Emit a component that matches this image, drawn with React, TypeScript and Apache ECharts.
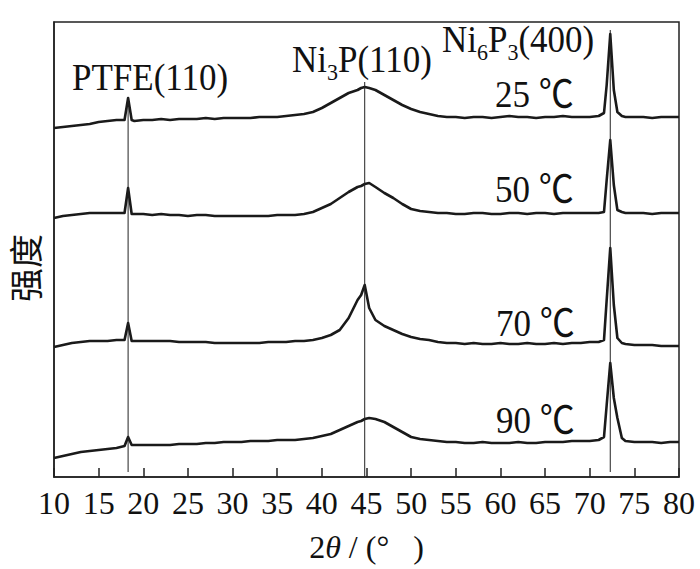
import { useEffect, useRef } from "react";
import * as echarts from "echarts";

// 2θ sampling positions (degrees)
const twoTheta = [
  10, 11, 12, 13, 14, 15, 16, 17,
  17.9, 18.3, 18.7,
  19, 20, 21, 22, 23, 24, 25, 26, 27, 28, 29, 30, 31, 32, 33, 34, 35, 36, 37, 38, 39, 40, 41, 42, 43, 44,
  44.4, 44.8, 45.3,
  46, 47, 48, 49, 50, 51, 52, 53, 54, 55, 56, 57, 58, 59, 60, 61, 62, 63, 64, 65, 66, 67, 68, 69, 70, 71,
  71.6, 71.9, 72.3, 72.7, 73.1, 73.6,
  74, 75, 76, 77, 78, 79, 80,
];

// Intensities (a.u., stacked offsets)
const i25 = [
  349, 350, 351, 352, 353, 355, 356, 357,
  357, 379, 357,
  356, 357, 357, 358, 357, 358, 358, 358, 359, 358, 359, 359, 359, 359, 360, 360, 360, 361, 362, 363, 365, 369, 374, 379, 384, 387,
  389, 390, 389,
  387, 382, 377, 372, 368, 365, 363, 361, 360, 360, 359, 360, 360, 359, 360, 361, 360, 360, 359, 360, 360, 361, 360, 360, 360, 361,
  364, 392, 443, 387, 365, 361,
  360, 360, 360, 359, 360, 360, 360,
];
const i50 = [
  259, 261, 262, 263, 264, 264, 264, 264,
  264, 289, 263,
  263, 263, 262, 263, 262, 262, 261, 262, 262, 261, 261, 261, 261, 261, 261, 261, 262, 262, 262, 263, 265, 269, 273, 279, 285, 290,
  291, 293, 294,
  290, 284, 279, 273, 268, 266, 265, 264, 264, 263, 263, 264, 264, 263, 263, 264, 264, 263, 264, 264, 263, 264, 264, 264, 264, 264,
  265, 297, 337, 292, 267, 265,
  264, 264, 264, 263, 264, 264, 264,
];
const i70 = [
  130, 132, 134, 135, 136, 136, 136, 137,
  137, 154, 136,
  136, 136, 136, 136, 136, 135, 135, 135, 135, 134, 134, 134, 134, 134, 134, 135, 135, 135, 136, 136, 137, 139, 142, 147, 159, 177,
  182, 192, 169,
  157, 151, 147, 143, 140, 138, 137, 135, 134, 134, 133, 134, 133, 133, 134, 133, 133, 134, 133, 133, 134, 133, 134, 134, 135, 135,
  137, 177, 229, 172, 139, 134,
  133, 132, 132, 132, 131, 131, 131,
];
const i90 = [
  19, 21, 23, 25, 26, 27, 28, 29,
  31, 40, 32,
  32, 32, 32, 32, 32, 33, 33, 33, 34, 34, 35, 35, 35, 36, 36, 36, 37, 37, 37, 38, 39, 41, 43, 47, 51, 55,
  56, 58, 59,
  58, 55, 50, 45, 40, 38, 37, 36, 35, 35, 34, 34, 35, 34, 34, 34, 35, 34, 34, 35, 35, 35, 36, 36, 36, 37,
  40, 72, 114, 79, 59, 39,
  36, 35, 35, 35, 34, 35, 35,
];

// Reference peak lines: position, lower and upper end (a.u.)
const peakPos = [18.3, 44.8, 72.3];
const peakLow = [5, 0, 5];
const peakHigh = [379, 395, 447];

const curves = [
  { name: "25 ℃", data: i25 },
  { name: "50 ℃", data: i50 },
  { name: "70 ℃", data: i70 },
  { name: "90 ℃", data: i90 },
];

const serif = "'Liberation Serif', 'Times New Roman', 'Noto Sans CJK SC', serif";
const ink = "#111";

export default function App() {
  const ref = useRef<HTMLDivElement>(null);

  useEffect(() => {
    if (!ref.current) return;
    const chart = echarts.init(ref.current, null, { renderer: "svg" });

    const curveSeries = curves.map((c) => ({
      name: c.name,
      type: "line",
      data: twoTheta.map((x, k) => [x, c.data[k]]),
      symbol: "none",
      silent: true,
      lineStyle: { color: "#1a1a1a", width: 2.6, join: "round" },
      z: 3,
    }));

    const lineSeries = peakPos.map((p, k) => ({
      type: "line",
      data: [
        [p, peakLow[k]],
        [p, peakHigh[k]],
      ],
      symbol: "none",
      silent: true,
      lineStyle: { color: "#222", width: 1 },
      z: 4,
    }));

    const richBase = { fontFamily: serif, fontSize: 35, lineHeight: 44, color: ink };
    const richSub = { fontFamily: serif, fontSize: 22, lineHeight: 26, verticalAlign: "bottom", color: ink };

    const plainText = (text: string, x: number, y: number) => ({
      type: "text",
      x,
      y,
      scaleY: 1.08,
      silent: true,
      style: {
        text,
        fontFamily: serif,
        fontSize: 35,
        fill: ink,
        verticalAlign: "middle",
        align: "left",
      },
    });

    const richText = (text: string, x: number, y: number) => ({
      type: "text",
      x,
      y,
      scaleY: 1.08,
      silent: true,
      style: {
        text,
        fill: ink,
        verticalAlign: "middle",
        align: "left",
        rich: { n: richBase, s: richSub },
      },
    });

    chart.setOption({
      animation: false,
      backgroundColor: "#fff",
      grid: {
        left: 54,
        right: 21,
        top: 22,
        bottom: 92,
        show: true,
        borderColor: "#222",
        borderWidth: 1.5,
        backgroundColor: "transparent",
      },
      xAxis: {
        type: "value",
        min: 10,
        max: 80,
        interval: 5,
        axisLine: { show: true, onZero: false, lineStyle: { color: "#222", width: 1.5 } },
        axisTick: { show: true, inside: true, length: 9, lineStyle: { color: "#222", width: 1.5 } },
        axisLabel: { fontFamily: serif, fontSize: 32, color: ink, margin: 10 },
        splitLine: { show: false },
        name: "2{i|θ} / (°   )",
        nameLocation: "middle",
        nameGap: 54,
        nameTextStyle: {
          fontFamily: serif,
          fontSize: 32,
          color: ink,
          rich: { i: { fontFamily: serif, fontSize: 32, fontStyle: "italic", color: ink } },
        },
      },
      yAxis: {
        type: "value",
        min: 0,
        max: 455,
        axisLine: { show: true, lineStyle: { color: "#222", width: 1.5 } },
        axisTick: { show: false },
        axisLabel: { show: false },
        splitLine: { show: false },
      },
      series: [...curveSeries, ...lineSeries],
      graphic: [
        {
          type: "text",
          x: 24,
          y: 268,
          rotation: Math.PI / 2,
          silent: true,
          style: {
            text: "强度",
            fontFamily: "'Noto Sans CJK SC'",
            fontSize: 34,
            fill: ink,
            align: "center",
            verticalAlign: "middle",
          },
        },
        plainText("PTFE(110)", 72, 78),
        richText("{n|Ni}{s|3}{n|P(110)}", 292, 60),
        richText("{n|Ni}{s|6}{n|P}{s|3}{n|(400)}", 442, 40),
        plainText(curves[0].name, 495, 95),
        plainText(curves[1].name, 495, 190),
        plainText(curves[2].name, 496, 324),
        plainText(curves[3].name, 496, 421),
      ],
    });

    return () => chart.dispose();
  }, []);

  return (
    <div
      ref={ref}
      style={{ position: "fixed", left: 0, top: 0, width: 700, height: 569, background: "#fff" }}
    />
  );
}
